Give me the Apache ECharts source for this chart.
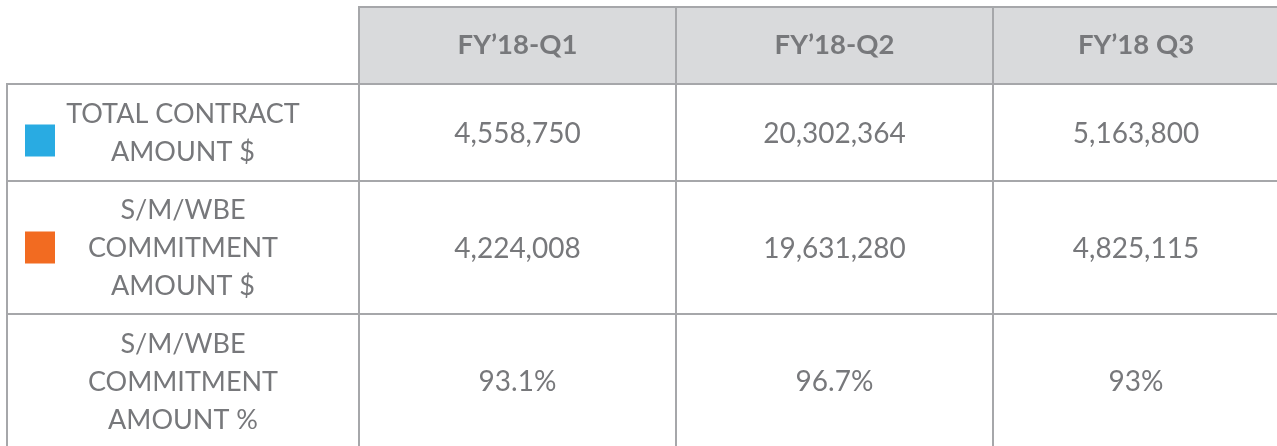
<!DOCTYPE html>
<html>
<head>
<meta charset="utf-8">
<script src="https://cdn.jsdelivr.net/npm/echarts@6/dist/echarts.min.js"></script>
<style>html,body{margin:0;padding:0;background:#fff}#c{width:1277px;height:446px}</style>
</head>
<body>
<div id="c"></div>
<script>
// ---- data ----
const categories = ["FY\u201918-Q1", "FY\u201918-Q2", "FY\u201918 Q3"];
const rowLabels = ["TOTAL CONTRACT\nAMOUNT $", "S/M/WBE\nCOMMITMENT\nAMOUNT $", "S/M/WBE\nCOMMITMENT\nAMOUNT %"];
const totalContract = [4558750, 20302364, 5163800];
const commitmentAmount = [4224008, 19631280, 4825115];
const commitmentPct = [93.1, 96.7, 93];

// ---- layout / style ----
const colEdges = [7, 359, 676, 993, 1286];
const rowEdges = [7, 84, 181, 314, 454];
const swatchColors = ["#29abe2", "#f26b21", null];
const swatchDy = [8, 0, 0];
const BORDER = "#a6a7aa";
const HEADER_FILL = "#d9dadc";
const TEXT = "#77787b";
const FONT = "Lato, 'Open Sans', sans-serif";

const fmtNum = v => v.toLocaleString("en-US");
const rows = [
  totalContract.map(fmtNum),
  commitmentAmount.map(fmtNum),
  commitmentPct.map(v => v + "%")
];

const cells = [];
for (let r = 0; r < 4; r++) {
  for (let c = 0; c < 4; c++) {
    if (r === 0 && c === 0) continue;
    cells.push([c, r]);
  }
}

function cellText(c, r) {
  if (r === 0) return categories[c - 1];
  if (c === 0) return rowLabels[r - 1];
  return rows[r - 1][c - 1];
}

const chart = echarts.init(document.getElementById("c"), null, {renderer: "canvas"});
chart.setOption({
  animation: false,
  grid: {left: 0, right: 0, top: 0, bottom: 0},
  xAxis: {type: "value", min: 0, max: 1277, show: false},
  yAxis: {type: "value", min: 0, max: 446, inverse: true, show: false},
  series: [{
    type: "custom",
    data: cells,
    clip: false,
    renderItem: function (params, api) {
      const c = api.value(0), r = api.value(1);
      const p0 = api.coord([colEdges[c], rowEdges[r]]);
      const p1 = api.coord([colEdges[c + 1], rowEdges[r + 1]]);
      const x = p0[0], y = p0[1], w = p1[0] - p0[0], h = p1[1] - p0[1];
      const cx = c === 3 ? (x + api.coord([1279, 0])[0]) / 2 : x + w / 2;
      const cy = r === 3 ? (y + api.coord([0, 448])[1]) / 2 : y + h / 2;
      const children = [{
        type: "rect",
        shape: {x: x, y: y, width: w, height: h},
        style: {fill: r === 0 ? HEADER_FILL : "#ffffff", stroke: BORDER, lineWidth: 2}
      }, {
        type: "text",
        style: {
          text: cellText(c, r),
          x: cx, y: r === 0 ? cy : cy + 1,
          align: "center", verticalAlign: "middle",
          fontFamily: FONT,
          fontSize: r === 0 ? 27.5 : (c === 0 ? 27 : 28),
          fontWeight: r === 0 ? "bold" : "normal",
          lineHeight: 38,
          fill: TEXT
        }
      }];
      if (c === 0 && swatchColors[r - 1]) {
        children.push({
          type: "rect",
          shape: {x: x + 18, y: y + h / 2 - 16 + swatchDy[r - 1], width: 30, height: 32},
          style: {fill: swatchColors[r - 1]}
        });
      }
      return {type: "group", children: children};
    }
  }]
});
</script>
</body>
</html>
